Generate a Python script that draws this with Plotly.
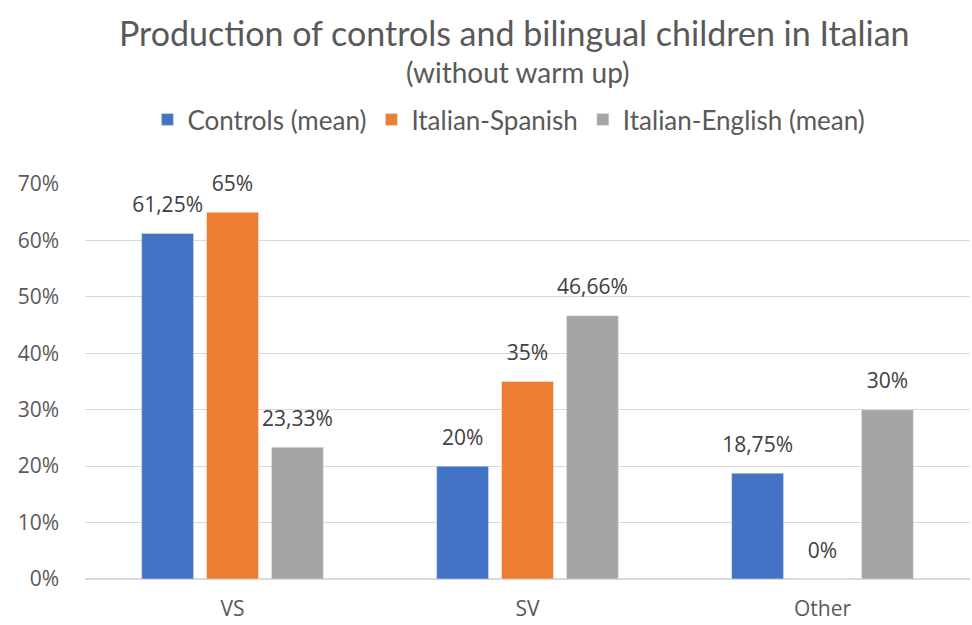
import plotly.graph_objects as go

categories = ["VS", "SV", "Other"]
series_names = ["Controls (mean)", "Italian-Spanish", "Italian-English (mean)"]
controls = [61.25, 20, 18.75]
italian_spanish = [65, 35, 0]
italian_english = [23.33, 46.66, 30]
colors = ["#4472C4", "#ED7D31", "#A5A5A5"]
y_ticks = [0, 10, 20, 30, 40, 50, 60, 70]

def fmt(v):
    s = f"{v:.2f}".rstrip("0").rstrip(".")
    return s.replace(".", ",") + "%"

TXT = "#595959"
LBL_FONT = dict(family="Open Sans, sans-serif", size=21, color="#404040")

fig = go.Figure()
all_series = [controls, italian_spanish, italian_english]
for i, (name, vals, col) in enumerate(zip(series_names, all_series, colors)):
    fig.add_trace(go.Bar(
        x=categories, y=vals, name=name, marker_color=col, offsetgroup=str(i),
    ))
for i, (name, vals) in enumerate(zip(series_names, all_series)):
    fig.add_trace(go.Scatter(
        x=categories, y=vals, mode="markers+text", offsetgroup=str(i),
        text=[fmt(v) for v in vals], textposition="top center",
        textfont=LBL_FONT, marker=dict(size=24, opacity=0),
        showlegend=False, hoverinfo="skip", cliponaxis=False,
    ))

fig.update_layout(
    width=972, height=625,
    margin=dict(l=85, r=2, t=184, b=46),
    paper_bgcolor="white", plot_bgcolor="white",
    barmode="group", bargap=0.34, bargroupgap=0.2,
    scattermode="group", scattergap=0.34,
    showlegend=True,
    legend=dict(orientation="h", x=0.479, xanchor="center", y=(625 - 143) / 625, yanchor="bottom",
                yref="container", font=dict(family="Lato, sans-serif", size=26, color=TXT),
                itemwidth=30, traceorder="normal"),
    xaxis=dict(showgrid=False, showline=False, ticks="", ticklabelstandoff=15, automargin=False,
               tickfont=dict(family="Open Sans, sans-serif", size=21, color=TXT)),
    yaxis=dict(range=[0, 70], tickvals=y_ticks, ticktext=[f"{t}%" for t in y_ticks], showgrid=True,
               gridcolor="#D9D9D9", gridwidth=1, zeroline=True, zerolinecolor="#D9D9D9",
               showline=False, ticklabelstandoff=25, automargin=False,
               tickfont=dict(family="Open Sans, sans-serif", size=21, color=TXT)),
    annotations=[
        dict(text="Production of controls and bilingual children in Italian", xref="paper", yref="paper",
             x=0.485, y=1.0, yanchor="middle", xanchor="center", showarrow=False, yshift=184 - 32,
             font=dict(family="Lato, sans-serif", size=34, color=TXT)),
        dict(text="(without warm up)", xref="paper", yref="paper",
             x=0.489, y=1.0, yanchor="middle", xanchor="center", showarrow=False, yshift=184 - 72,
             font=dict(family="Lato, sans-serif", size=28, color=TXT)),
    ],
)

fig.write_html("out.html")
